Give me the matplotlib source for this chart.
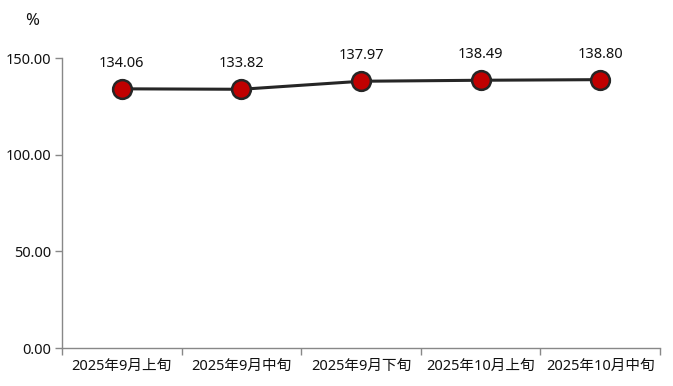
import matplotlib
matplotlib.use("Agg")
import matplotlib.pyplot as plt

plt.rcParams['font.family'] = ['Noto Sans', 'Noto Sans CJK SC', 'DejaVu Sans']

categories = ["2025年9月上旬", "2025年9月中旬", "2025年9月下旬", "2025年10月上旬", "2025年10月中旬"]
values = [134.06, 133.82, 137.97, 138.49, 138.80]
yticks = [0, 50, 100, 150]

fig = plt.figure(figsize=(6.73, 3.86), dpi=100)
ax = fig.add_axes([62/673, 1-348/386, (660-62)/673, (348-58)/386])

x = list(range(len(categories)))
ax.plot(x, values, color='#262626', linewidth=2.2, marker='o', markersize=13.5,
        markerfacecolor='#C00000', markeredgecolor='#262626', markeredgewidth=1.8, zorder=3)
for xi, v in zip(x, values):
    ax.annotate(f"{v:.2f}", (xi, v), xytext=(0, 13), textcoords='offset points',
                ha='center', va='bottom', fontsize=10.5, color='#111111')

ax.set_xlim(-0.5, len(categories) - 0.5)
ax.set_ylim(0, 150)
ax.set_yticks(yticks)
ax.set_yticklabels([f"{t:.2f}" for t in yticks], fontsize=10.5, color='#111111')
ax.set_xticks(x)
ax.set_xticklabels(categories, fontsize=10.5, color='#111111')
ax.set_xticks([i - 0.5 for i in range(len(categories) + 1)], minor=True)
ax.tick_params(axis='x', which='major', length=0, pad=8)
ax.tick_params(axis='x', which='minor', length=5, color='#888888', width=1)
ax.tick_params(axis='y', length=5, color='#888888', width=1, pad=3)

for s in ['top', 'right']:
    ax.spines[s].set_visible(False)
for s in ['left', 'bottom']:
    ax.spines[s].set_color('#888888')
    ax.spines[s].set_linewidth(1)

fig.text(32/673, 1-21/386, "%", ha='center', va='center', fontsize=12, color='#111111')

fig.savefig("out.png", dpi=100, facecolor='white')
